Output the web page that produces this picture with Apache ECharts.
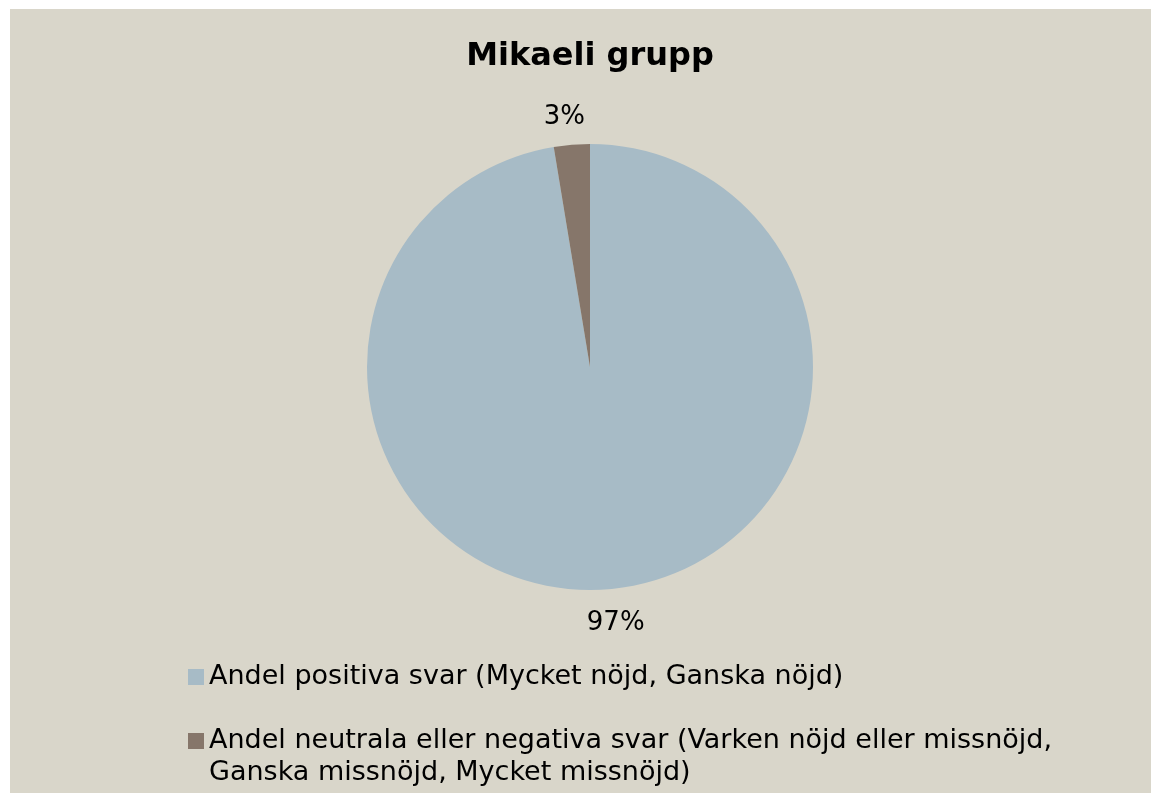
<!DOCTYPE html>
<html>
<head>
<meta charset="utf-8">
<script src="https://cdn.jsdelivr.net/npm/echarts@6/dist/echarts.min.js"></script>
<style>
html,body{margin:0;padding:0;background:#ffffff;}
#chart{position:absolute;left:10px;top:9px;width:1141px;height:784px;}
</style>
</head>
<body>
<div id="chart"></div>
<script>
const titleText = 'Mikaeli grupp';
const categories = [
  'Andel positiva svar (Mycket nöjd, Ganska nöjd)',
  'Andel neutrala eller negativa svar (Varken nöjd eller missnöjd, Ganska missnöjd, Mycket missnöjd)'
];
const values = [97.4, 2.6];
const colors = ['#A7BBC6', '#86766A'];

const font = 'DejaVu Sans';
const chart = echarts.init(document.getElementById('chart'));
chart.setOption({
  backgroundColor: '#D9D6CA',
  animation: false,
  title: {
    text: titleText,
    left: 575,
    textAlign: 'center',
    top: 27,
    textStyle: { fontFamily: font, fontSize: 32, fontWeight: 'bold', color: '#000' }
  },
  legend: {
    orient: 'vertical',
    left: 178,
    top: 652,
    height: 400,
    padding: 0,
    itemWidth: 16,
    itemHeight: 16,
    itemGap: 0,
    icon: 'rect',
    formatter: name => (name === categories[1] ? '\n' + name : name),
    textStyle: {
      fontFamily: font, fontSize: 27, color: '#000', lineHeight: 32,
      width: 900, overflow: 'break'
    },
    data: categories
  },
  series: [{
    type: 'pie',
    center: [580, 358],
    radius: 223,
    startAngle: 90,
    clockwise: true,
    color: colors,
    data: categories.map((c, i) => ({ name: c, value: values[i] })),
    label: {
      show: true,
      position: 'outside',
      formatter: p => Math.round(p.percent) + '%',
      fontFamily: font,
      fontSize: 26,
      color: '#000'
    },
    labelLine: { show: false, length: 31, length2: 0 },
    labelLayout: { align: 'center', verticalAlign: 'middle', dy: 3 },
    emphasis: { disabled: true }
  }]
});
</script>
</body>
</html>
